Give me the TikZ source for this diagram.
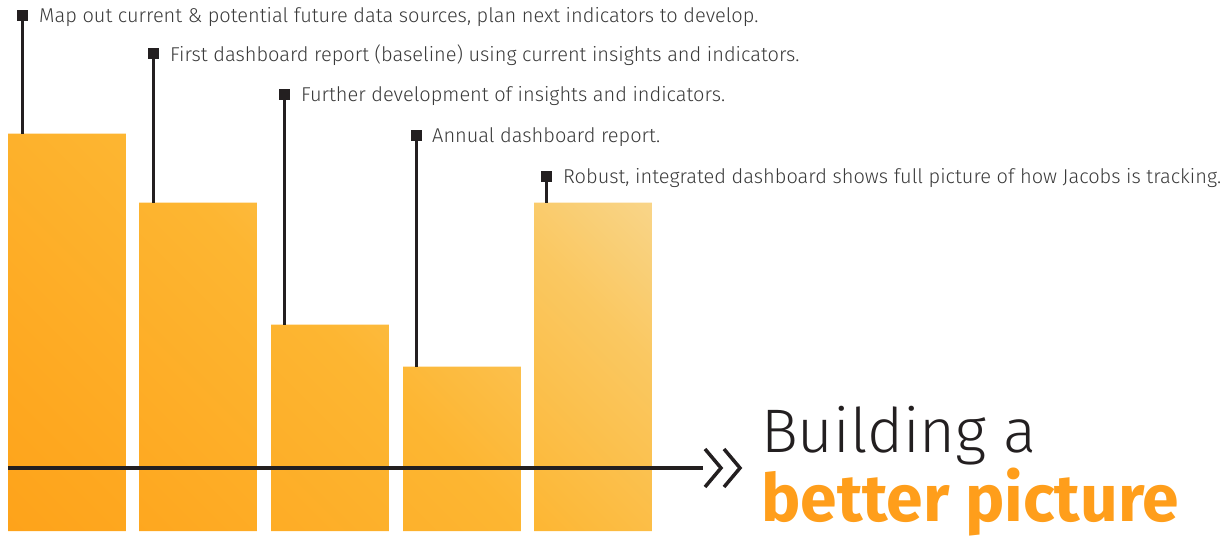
\documentclass[tikz,border=0pt]{standalone}
\usepackage{fontspec}
\setmainfont{Fira Sans}[UprightFont=* Light, BoldFont=* Bold]
\usepackage{tikz}
\usetikzlibrary{positioning}
\definecolor{ink}{RGB}{35, 31, 32}
\definecolor{slate}{RGB}{58, 58, 58}
\definecolor{tangerine}{RGB}{255, 156, 18}
\definecolor{amber}{RGB}{254, 168, 32}
\definecolor{saffron}{RGB}{253, 182, 50}
\definecolor{mustard}{RGB}{250, 200, 98}
\definecolor{wheat}{RGB}{248, 218, 152}
\definecolor{cream}{RGB}{247, 230, 186}
\definecolor{headline}{RGB}{255, 158, 27}
\pgfdeclarehorizontalshading{barfade}{100bp}{color(0bp)=(tangerine); color(25bp)=(amber);
  color(50bp)=(saffron); color(70bp)=(mustard); color(85bp)=(wheat); color(100bp)=(cream)}

\begin{document}
\begin{tikzpicture}[x=1pt, y=-1pt,
    bar/.style={rectangle, anchor=south west, inner sep=0pt, minimum width=117.5pt},
    marker/.style={rectangle, fill=ink, inner sep=0pt, minimum size=11pt},
    stem/.style={ink, line width=3pt},
    note/.style={anchor=base west, inner sep=0pt, text=slate, font=\fontsize{20}{24}\selectfont}]
            \useasboundingbox (0, 0) rectangle (1227, 537);
            % Bars
            \node[bar, minimum height=397pt] (b1) at (  8, 531) {};
            \node[bar, minimum height=328pt] (b2) at (139, 531) {};
            \node[bar, minimum height=206pt] (b3) at (271, 531) {};
            \node[bar, minimum height=164pt] (b4) at (403, 531) {};
            \node[bar, minimum height=328pt] (b5) at (534, 531) {};
            \shade[shading=barfade, shading angle=45]
                 \foreach \i in {1,...,5} {(b\i.south west) rectangle (b\i.north east)};
            % Markers & stems
            \node[marker] (m1) at ( 22,  15.5) {};
            \node[marker] (m2) at (153,  53.5) {};
            \node[marker] (m3) at (284,  95.0) {};
            \node[marker] (m4) at (416, 135.5) {};
            \node[marker] (m5) at (546, 176.5) {};
            \foreach \i in {1,...,5}
                 \draw[stem] (m\i.center) -- (m\i.center |- b\i.north);
            % Notes
            \node[note] (n1) at ( 39,  23) {Map out current \& potential future data sources, plan next indicators to develop.};
            \node[note] (n2) at (170,  62) {First dashboard report (baseline) using current insights and indicators.};
            \node[note] (n3) at (301, 102) {Further development of insights and indicators.};
            \node[note] (n4) at (432, 143) {Annual dashboard report.};
            \node[note] (n5) at (563, 184) {Robust, integrated dashboard shows full picture of how Jacobs is tracking.};
            % Axis & chevrons
            \coordinate (axL) at (  8, 468);
            \coordinate (axR) at (703, 468);
            \draw[ink, line width=3.5pt] (axL) -- (axR);
            \draw[ink, line width=3.5pt, line join=miter] (705, 449) -- (721, 468) -- (705, 487);
            \draw[ink, line width=3.5pt, line join=miter] (724, 449) -- (740, 468) -- (724, 487);
            % Headline
            \node[anchor=base west, inner sep=0pt, text=ink, font=\fontsize{61.5}{70}\selectfont]
                 (h1) at (761, 453) {Building a};
            \node[anchor=base west, inner sep=0pt, text=headline, font=\fontsize{66}{70}\selectfont\bfseries]
                 (h2) at (761, 521) {better picture};
\end{tikzpicture}
\end{document}
